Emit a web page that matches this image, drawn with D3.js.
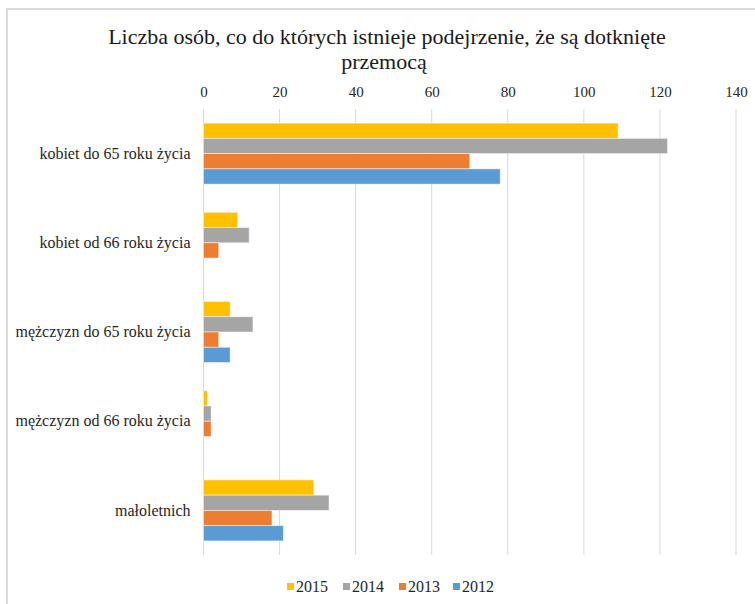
<!DOCTYPE html>
<html>
<head>
<meta charset="utf-8">
<script src="https://cdn.jsdelivr.net/npm/d3@7"></script>
<style>
  body { margin: 0; background: #fff; }
  svg { display: block; }
  svg text { font-family: "Liberation Serif", "Tinos", "Noto Serif", "DejaVu Serif", "FreeSerif", "Nimbus Roman", "Times", serif; }
</style>
</head>
<body>
<div id="chart"></div>
<script>
// categories, top to bottom
const categories = [
    "kobiet do 65 roku życia",
    "kobiet od 66 roku życia",
    "mężczyzn do 65 roku życia",
    "mężczyzn od 66 roku życia",
    "małoletnich"
];
const years = ["2015", "2014", "2013", "2012"];
const values2015 = [109, 9, 7, 1, 29];
const values2014 = [122, 12, 13, 2, 33];
const values2013 = [70, 4, 4, 2, 18];
const values2012 = [78, 0, 7, 0, 21];
const xTicks = [0, 20, 40, 60, 80, 100, 120, 140];
const colors = ["#FFC000", "#A5A5A5", "#ED7D31", "#5B9BD5"];

const seriesValues = [values2015, values2014, values2013, values2012];

const width = 755;
const height = 604;
const margin = { left: 203.5, right: 19, top: 109, bottom: 49 };

const svg = d3.select("#chart")
    .append("svg")
    .attr("width", width)
    .attr("height", height);

// outer frame
svg.append("rect")
    .attr("x", 7)
    .attr("y", 9)
    .attr("width", width + 10)
    .attr("height", height + 10)
    .attr("fill", "#fff")
    .attr("stroke", "#d9d9d9")
    .attr("stroke-width", 2);

// title
svg.append("text")
    .attr("x", 387)
    .attr("y", 44)
    .attr("text-anchor", "middle")
    .style("font-size", "22px")
    .attr("fill", "#1a1a1a")
    .text("Liczba osób, co do których istnieje podejrzenie, że są dotknięte");
svg.append("text")
    .attr("x", 384)
    .attr("y", 69)
    .attr("text-anchor", "middle")
    .style("font-size", "22px")
    .attr("fill", "#1a1a1a")
    .text("przemocą");

const x = d3.scaleLinear()
    .domain([0, 140])
    .range([margin.left, width - margin.right]);

const y = d3.scaleBand()
    .domain(categories)
    .range([margin.top, height - margin.bottom])
    .paddingInner(0.316)
    .paddingOuter(0.158);

const ySub = d3.scaleBand()
    .domain(years)
    .range([0, y.bandwidth()]);

// gridlines
svg.append("g")
    .selectAll("line")
    .data(xTicks)
    .join("line")
    .attr("x1", d => x(d))
    .attr("x2", d => x(d))
    .attr("y1", margin.top)
    .attr("y2", height - margin.bottom)
    .attr("stroke", "#d9d9d9")
    .attr("stroke-width", 1);

// top axis labels
const xAxis = d3.axisTop(x).tickValues(xTicks).tickSize(0).tickPadding(0);
const gx = svg.append("g")
    .attr("transform", `translate(0, 97)`)
    .call(xAxis);
gx.attr("font-family", null);
gx.select(".domain").remove();
gx.selectAll("text")
    .style("font-size", "15px")
    .attr("fill", "#262626");

// category labels
const gy = svg.append("g")
    .attr("transform", `translate(${margin.left}, 0)`)
    .call(d3.axisLeft(y).tickSize(0).tickPadding(13));
gy.attr("font-family", null);
gy.select(".domain").remove();
gy.selectAll("text")
    .style("font-size", "16px")
    .attr("fill", "#262626");

// bars
categories.forEach((cat, ci) => {
    years.forEach((yr, si) => {
        const v = seriesValues[si][ci];
        if (v <= 0) return;
        svg.append("rect")
            .attr("x", x(0))
            .attr("y", y(cat) + ySub(yr))
            .attr("width", x(v) - x(0))
            .attr("height", ySub.bandwidth())
            .attr("fill", colors[si])
            .attr("stroke", "#fff")
            .attr("stroke-opacity", 0.6)
            .attr("stroke-width", 0.8);
    });
});

// legend
const legendX = [287, 343, 399, 453];
const legend = svg.append("g").attr("transform", "translate(0, 587)");
years.forEach((yr, i) => {
    const g = legend.append("g").attr("transform", `translate(${legendX[i]}, 0)`);
    g.append("rect")
        .attr("x", 0)
        .attr("y", -4)
        .attr("width", 7)
        .attr("height", 7)
        .attr("fill", colors[i]);
    g.append("text")
        .attr("x", 9)
        .attr("y", 5)
        .style("font-size", "16px")
        .attr("fill", "#262626")
        .text(yr);
});
</script>
</body>
</html>
